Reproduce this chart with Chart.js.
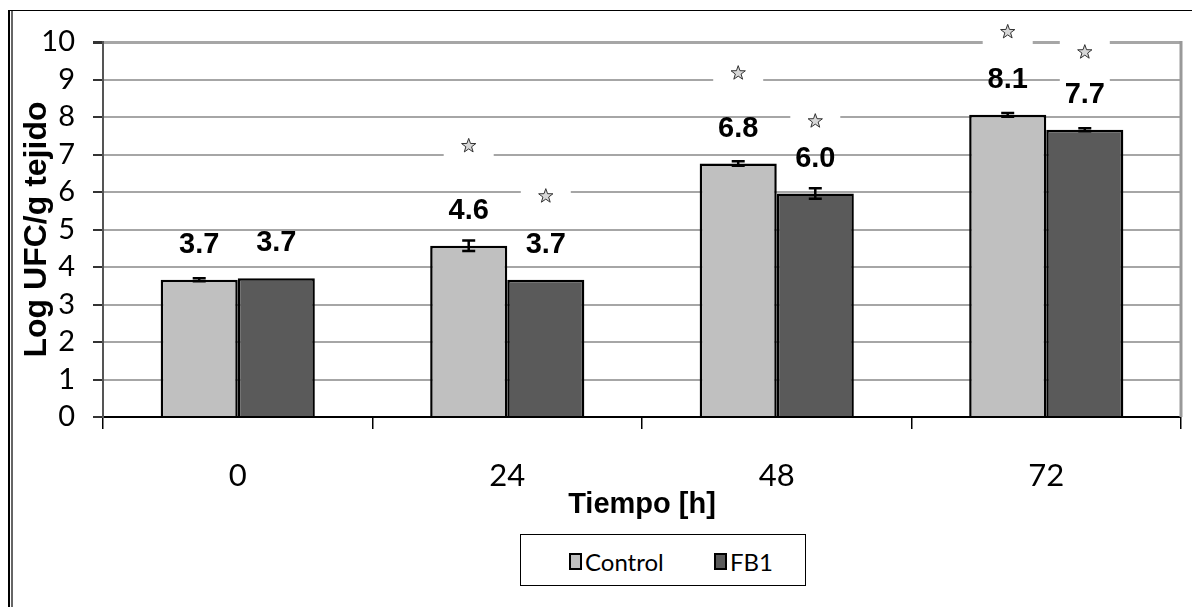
<!DOCTYPE html>
<html>
<head>
<meta charset="utf-8">
<script src="https://cdn.jsdelivr.net/npm/chart.js@4"></script>
<style>
  html, body { margin: 0; padding: 0; background: #fff; }
  #wrap { position: relative; width: 1192px; height: 607px; overflow: hidden; }
  #chart { position: absolute; left: 0; top: 0; }
  .frame { position: absolute; }
  #legend {
    position: absolute; left: 520px; top: 534px; width: 284px; height: 50px;
    border: 1px solid #000; background: #fff;
    font-family: Lato, 'Open Sans', sans-serif;
    font-size: 24px; color: #000;
  }
  .item { position: absolute; top: 12px; display: flex; align-items: center; }
  .swatch { width: 9px; height: 13px; border: 2px solid #000; margin-right: 3px; }
</style>
</head>
<body>
<div id="wrap">
  <div class="frame" style="left:8px;top:10px;width:2px;height:597px;background:#000"></div>
  <div class="frame" style="left:11px;top:10px;width:2px;height:597px;background:#666"></div>
  <div class="frame" style="left:8px;top:10px;width:1184px;height:1px;background:#000"></div>
  <canvas id="chart" width="1192" height="607"></canvas>
  <div id="legend"></div>
</div>
<script>
const hours = ['0', '24', '48', '72'];
const controlMeans = [3.66, 4.57, 6.76, 8.06];
const fb1Means = [3.70, 3.66, 5.96, 7.66];
const controlErr = [0.04, 0.14, 0.06, 0.05];
const fb1Err = [0, 0, 0.14, 0.04];
// significance stars (axis units), null = no star
const controlStars = [null, 7.23, 9.17, 10.27];
const fb1Stars = [null, 5.89, 7.89, 9.73];
const yTicks = [0, 1, 2, 3, 4, 5, 6, 7, 8, 9, 10];

const tickFont = "Lato, 'Open Sans', sans-serif";
const boldFont = "'Liberation Sans', Arial, sans-serif";
const errors = [controlErr, fb1Err];
const stars = [controlStars, fb1Stars];

function drawStar(ctx, cx, cy) {
  ctx.beginPath();
  for (let i = 0; i < 10; i++) {
    const r = i % 2 === 0 ? 7.5 : 3;
    const a = -Math.PI / 2 + i * Math.PI / 5;
    ctx.lineTo(cx + r * Math.cos(a), cy + r * Math.sin(a));
  }
  ctx.closePath();
  ctx.fillStyle = '#d8d8d8';
  ctx.fill();
  ctx.strokeStyle = '#333';
  ctx.lineWidth = 1;
  ctx.stroke();
}

// white boxes + stars over the gridlines, under the bars
const starPlugin = {
  id: 'stars',
  beforeDatasetsDraw(chart) {
    const ctx = chart.ctx;
    const y = chart.scales.y;
    ctx.save();
    // right edge of the plot area
    ctx.strokeStyle = '#999';
    ctx.lineWidth = 3;
    ctx.beginPath();
    ctx.moveTo(chart.chartArea.right, chart.chartArea.top - 1);
    ctx.lineTo(chart.chartArea.right, chart.chartArea.bottom);
    ctx.stroke();
    chart.data.datasets.forEach((ds, di) => {
      const meta = chart.getDatasetMeta(di);
      meta.data.forEach((bar, i) => {
        const s = stars[di][i];
        if (s == null) return;
        const py = y.getPixelForValue(s);
        ctx.fillStyle = '#fff';
        ctx.fillRect(bar.x - 25, py - 14, 50, 43);
        drawStar(ctx, bar.x, py);
      });
    });
    ctx.restore();
  },
  afterDatasetsDraw(chart) {
    const ctx = chart.ctx;
    const y = chart.scales.y;
    ctx.save();
    chart.data.datasets.forEach((ds, di) => {
      const meta = chart.getDatasetMeta(di);
      meta.data.forEach((bar, i) => {
        const v = ds.data[i];
        const e = errors[di][i];
        if (e > 0) {
          const hi = y.getPixelForValue(v + e);
          const lo = y.getPixelForValue(v - e);
          ctx.strokeStyle = '#000';
          ctx.lineWidth = 2.5;
          ctx.beginPath();
          ctx.moveTo(bar.x, hi); ctx.lineTo(bar.x, lo);
          ctx.moveTo(bar.x - 6.5, hi); ctx.lineTo(bar.x + 6.5, hi);
          ctx.moveTo(bar.x - 6.5, lo); ctx.lineTo(bar.x + 6.5, lo);
          ctx.stroke();
        }
        ctx.fillStyle = '#000';
        ctx.font = 'bold 29px ' + boldFont;
        ctx.textAlign = 'center';
        ctx.textBaseline = 'middle';
        ctx.fillText(v.toFixed(1), bar.x, y.getPixelForValue(v) - 35);
      });
    });
    ctx.restore();
  }
};

const chart = new Chart(document.getElementById('chart'), {
  type: 'bar',
  data: {
    labels: hours,
    datasets: [
      {
        label: 'Control',
        data: controlMeans,
        backgroundColor: '#c0c0c0',
        borderColor: '#000',
        borderWidth: 2.5,
        categoryPercentage: 0.572,
        barPercentage: 1
      },
      {
        label: 'FB1',
        data: fb1Means,
        backgroundColor: '#5a5a5a',
        borderColor: '#000',
        borderWidth: 2.5,
        categoryPercentage: 0.572,
        barPercentage: 1
      }
    ]
  },
  options: {
    responsive: false,
    animation: false,
    layout: { padding: { left: 0, top: 42, right: 11, bottom: 80 } },
    plugins: {
      legend: { display: false },
      tooltip: { enabled: false }
    },
    scales: {
      x: {
        offset: true,
        afterFit(scale) { scale.height = 110; },
        grid: {
          offset: true,
          drawOnChartArea: false,
          tickLength: 12,
          tickColor: '#000',
          lineWidth: 1.5
        },
        border: { color: '#000', width: 2 },
        ticks: {
          color: '#000',
          padding: 28,
          font: { family: tickFont, size: 31 }
        },
        title: {
          display: true,
          text: 'Tiempo [h]',
          color: '#000',
          padding: { top: 0, bottom: 5 },
          font: { family: boldFont, size: 29, weight: 'bold' }
        }
      },
      y: {
        min: 0,
        max: 10,
        afterFit(scale) { scale.width = 103; },
        afterBuildTicks(scale) { scale.ticks = yTicks.map(v => ({ value: v })); },
        grid: {
          color: '#a6a6a6',
          lineWidth: ctx => ctx.tick && ctx.tick.value === 10 ? 3 : 2,
          tickLength: 10,
          tickColor: '#333'
        },
        border: { color: '#555', width: 2 },
        ticks: {
          color: '#000',
          padding: 18,
          autoSkip: false,
          font: { family: tickFont, size: 29 }
        },
        title: {
          display: true,
          text: 'Log UFC/g tejido',
          color: '#000',
          padding: { top: 18, bottom: 0 },
          font: { family: boldFont, size: 32, weight: 'bold' }
        }
      }
    }
  },
  plugins: [starPlugin]
});

// legend box under the axis title
const legend = document.getElementById('legend');
const itemLeft = [48, 193];
chart.data.datasets.forEach((ds, i) => {
  const item = document.createElement('div');
  item.className = 'item';
  item.style.left = itemLeft[i] + 'px';
  item.innerHTML = '<span class="swatch" style="background:' + ds.backgroundColor + '"></span>' + ds.label;
  legend.appendChild(item);
});
</script>
</body>
</html>
